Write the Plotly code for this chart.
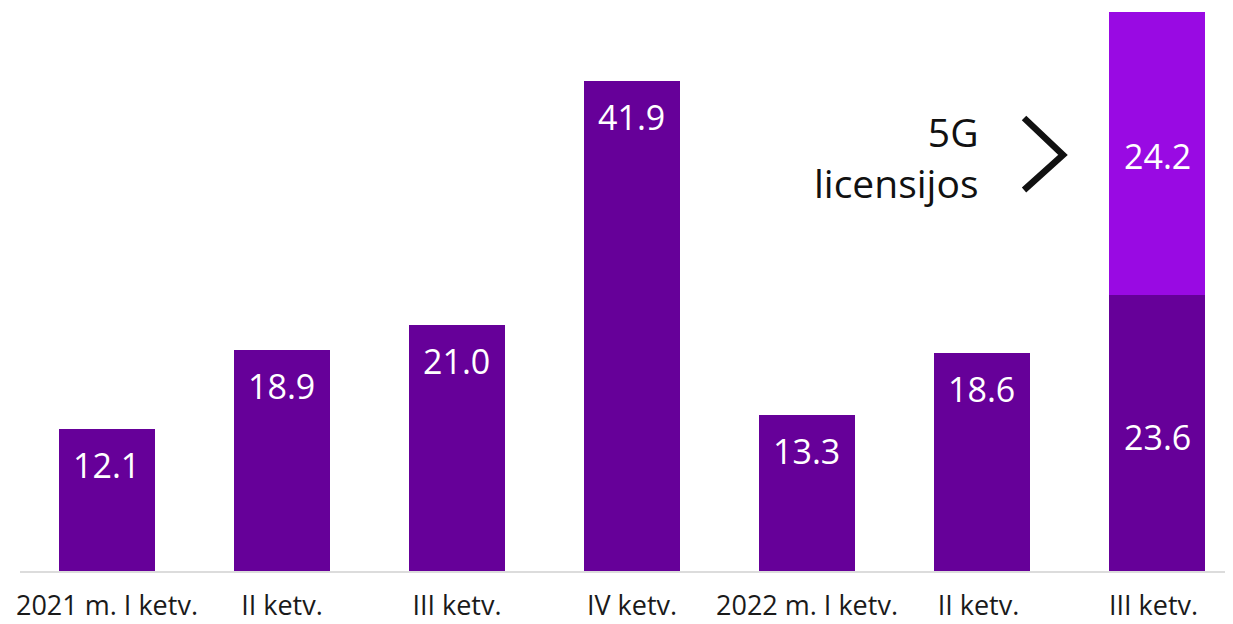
import plotly.graph_objects as go

quarters = ["2021 m. I ketv.", "II ketv.", "III ketv.", "IV ketv.",
            "2022 m. I ketv.", "II ketv. ", "III ketv. "]
investments = [12.1, 18.9, 21.0, 41.9, 13.3, 18.6, 23.6]
licenses = [None, None, None, None, None, None, 24.2]

DARK = "#660099"
BRIGHT = "#990ae3"
FONT = "Open Sans"

fig = go.Figure()
fig.add_trace(go.Bar(x=quarters, y=investments, marker_color=DARK,
                     marker_line_width=0, showlegend=False))
fig.add_trace(go.Bar(x=quarters, y=licenses, marker_color=BRIGHT,
                     marker_line_width=0, showlegend=False))

label_font = dict(family=FONT, size=34, color="white")

# value labels: near top of single bars, centred in the stacked one
for i, (q, v) in enumerate(zip(quarters, investments)):
    if licenses[i] is None:
        fig.add_annotation(x=q, y=v, yshift=-36, text=f"{v:.1f}", showarrow=False,
                           font=label_font)
    else:
        fig.add_annotation(x=q, y=v / 2, yshift=-4, text=f"{v:.1f}", showarrow=False,
                           font=label_font)
        lic = licenses[i]
        fig.add_annotation(x=q, y=v + lic / 2, yshift=-3, text=f"{lic:.1f}", showarrow=False,
                           font=label_font)

fig.add_annotation(xref="paper", yref="paper", x=0.787, y=0.735, xanchor="right",
                   yanchor="middle", align="right", showarrow=False,
                   text="5G<br>licensijos",
                   font=dict(family=FONT, size=39, color="#111111"))

# chevron
fig.add_shape(type="path", xref="paper", yref="paper",
              path="M 0.8223 0.8046 L 0.8542 0.7389 L 0.8223 0.6767",
              line=dict(color="#111111", width=6.5))

fig.update_layout(
    barmode="stack",
    bargap=0.446,
    width=1233, height=624,
    margin=dict(l=12, r=0, t=0, b=61),
    plot_bgcolor="white", paper_bgcolor="white",
    font=dict(family=FONT, size=27, color="#1a1a1a"),
)
fig.update_xaxes(range=[-0.497, 6.48], showline=True, linecolor="#dcdcdc",
                 linewidth=2, ticks="", showgrid=False, ticklabelstandoff=10,
                 tickfont=dict(family=FONT, size=27, color="#1a1a1a"))
fig.update_yaxes(range=[0, 48.1], visible=False, showgrid=False)

fig.write_html("out.html")
